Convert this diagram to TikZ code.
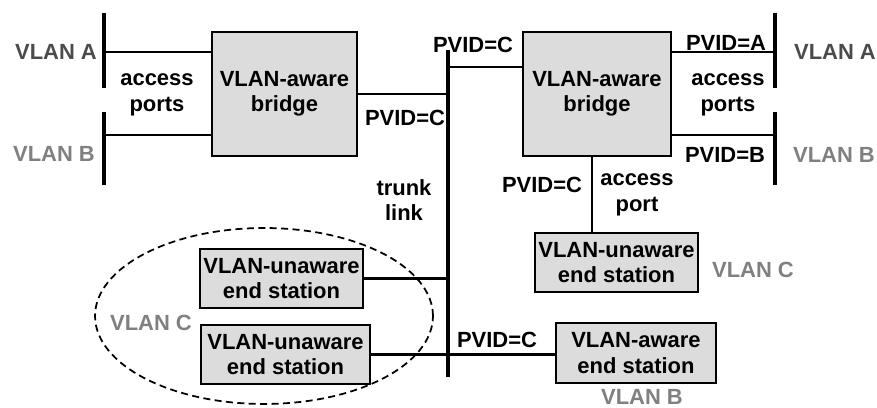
\documentclass[tikz,border=0pt]{standalone}
\usepackage{fontspec}
\setmainfont{Liberation Sans}
\usepackage{xcolor}
\definecolor{boxgray}{RGB}{220,220,220}
\definecolor{vlangray}{RGB}{128,128,128}
\definecolor{vlandark}{RGB}{75,75,75}
\usetikzlibrary{calc}
\tikzset{
  bridge/.style={draw, line width=1.1pt, fill=boxgray, minimum width=2.9cm,
    minimum height=2.48cm, align=center, inner sep=0pt,
    font=\bfseries\fontsize{12.5}{14.5}\selectfont},
  station/.style={bridge, minimum width=3.26cm, minimum height=1.18cm},
  lbl/.style={align=center, inner sep=0pt, font=\bfseries\fontsize{12.5}{14.5}\selectfont},
  vlanlbl/.style={lbl, vlangray},
  bus/.style={line width=2.4pt},
  link/.style={line width=1.4pt},
  portlink/.style={line width=0.9pt},
}

\begin{document}
\begin{tikzpicture}[x=0.02cm, y=-0.02cm]
  \useasboundingbox (0,0) rectangle (877,408);

  % Trunk link
  \coordinate (trtop) at (448,50);
  \coordinate (trbot) at (448,377);
  \draw[bus] (trtop) -- (trbot);
  \node[lbl] (trunk) at (404,200) {trunk\\link};

  % --- Left bridge ---
  \draw[bus] (104,13) -- (104,88);
  \draw[bus] (104,112) -- (104,185);
  \coordinate (lpa) at (104,52);
  \coordinate (lpb) at (104,135);
  \node[bridge] (lbr) at (284.5,94) {VLAN-aware\\bridge};
  \draw[link] (lpa) -- (lpa -| lbr.west);
  \draw[link] (lpb) -- (lpb -| lbr.west);
  \draw[link] (lbr.east) -- (lbr.east -| trtop);
  \node[lbl, vlandark] (lvla) at (56,52) {VLAN A};
  \node[vlanlbl] (lvlb) at (54,154) {VLAN B};
  \node[lbl] (lacc) at (157,95) {access\\ports};
  \node[lbl] (lpvid) at (405,118) {PVID=C};

  % --- Right bridge ---
  \draw[bus] (775,13) -- (775,88);
  \draw[bus] (775,112) -- (775,185);
  \coordinate (rpa) at (775,52);
  \coordinate (rpb) at (775,135);
  \coordinate (trc) at (448,67);
  \node[bridge, minimum width=2.96cm] (rbr) at (597,94) {VLAN-aware\\bridge};
  \draw[link] (trc) -- (trc -| rbr.west);
  \draw[link] (rpa) -- (rpa -| rbr.east);
  \draw[link] (rpb) -- (rpb -| rbr.east);
  \node[lbl] (tpvid) at (473,45) {PVID=C};
  \node[lbl] (rpvida) at (726,43) {PVID=A};
  \node[lbl] (rpvidb) at (725,155) {PVID=B};
  \node[lbl] (racc) at (728,95) {access\\ports};
  \node[lbl, vlandark] (rvla) at (835,52) {VLAN A};
  \node[vlanlbl] (rvlb) at (834,155) {VLAN B};

  % --- Access port to VLAN-unaware station ---
  \coordinate (rport) at (592,200);
  \node[station] (ues3) at (616.5,262.5) {VLAN-unaware\\end station};
  \draw[portlink] (rport |- rbr.south) -- (rport |- ues3.north);
  \node[lbl] (ppvid) at (542,185) {PVID=C};
  \node[lbl] (pacc) at (637,195) {access\\port};
  \node[vlanlbl] (rvlc) at (753,270) {VLAN C};

  % --- VLAN C group ---
  \draw[dashed, dash pattern=on 4pt off 2.5pt, line width=1pt]
       (264,316) ellipse [x radius=3.38cm, y radius=1.76cm];
  \node[station] (ues1) at (281.5,278.5) {VLAN-unaware\\end station};
  \node[station, minimum width=3.38cm] (ues2) at (285.5,354.5) {VLAN-unaware\\end station};
  \node[vlanlbl] (lvlc) at (151,323) {VLAN C};
  \draw[link] (ues1.east) -- (ues1.east -| trtop);

  % --- VLAN-aware end station ---
  \node[station, minimum width=3.2cm, minimum height=1.2cm] (aes) at (636,353) {VLAN-aware\\end station};
  \draw[link] (ues2.east) -- (ues2.east -| aes.west);
  \node[lbl] (apvid) at (497,340) {PVID=C};
  \node[vlanlbl] (avlb) at (642,397) {VLAN B};
\end{tikzpicture}
\end{document}
